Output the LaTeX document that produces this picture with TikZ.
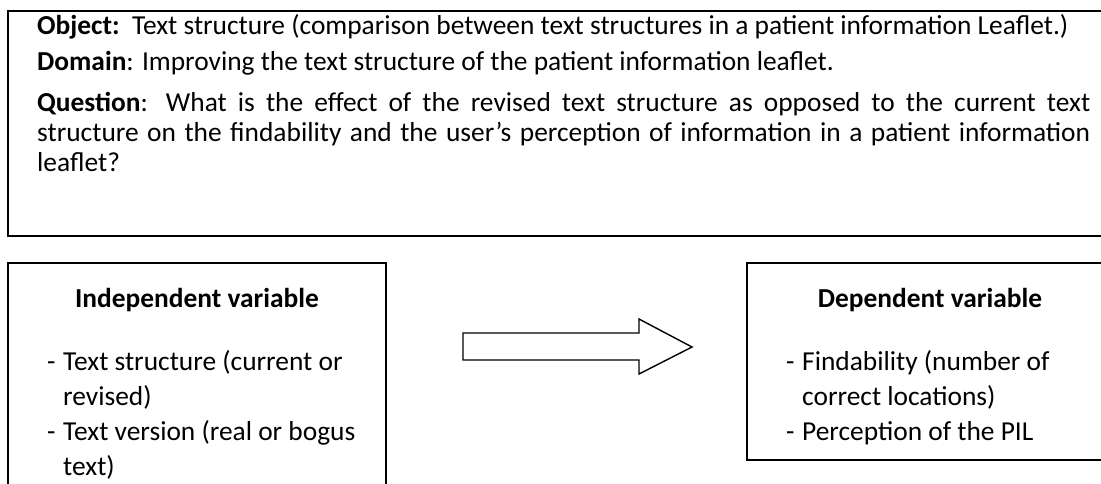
\documentclass[tikz,border=0pt]{standalone}
\usepackage{fontspec}
\setmainfont{Carlito}
\newcommand{\fs}{\fontsize{27.4pt}{33pt}\selectfont}
\begin{document}
\begin{tikzpicture}[x=1pt,y=-1pt,
  box/.style={draw=black,line width=1.7pt},
  txt/.style={anchor=base west,inner sep=0pt,font=\fs},
  hdr/.style={anchor=base,inner sep=0pt,font=\fs\bfseries}]
\useasboundingbox (0,0) rectangle (1101,483);
\clip (0,0) rectangle (1101,483);
% top box
\draw[box] (8,11) rectangle (1120,236);
\node[txt] (obj) at (37,34) {\textbf{Object:}\ \ Text structure (comparison between text structures in a patient information Leaflet.)};
\node[txt] (dom) at (37,70) {\textbf{Domain}: Improving the text structure of the patient information leaflet.};
\node[txt] (q1) at (37,111) {\makebox[1053pt][s]{\textbf{Question}: What is the effect of the revised text structure as opposed to the current text}};
\node[txt] (q2) at (37,141) {\makebox[1053pt][s]{structure on the findability and the user’s perception of information in a patient information}};
\node[txt] (q3) at (37,171) {leaflet?};
% independent box
\draw[box] (8,263) rectangle (386,500);
\node[hdr] (ih) at (197,307) {Independent variable};
\node[txt] (i1) at (47,370) {-};
\node[txt] (i1t) at (63,370) {Text structure (current or};
\node[txt] (i2t) at (63,405) {revised)};
\node[txt] (i3) at (47,440) {-};
\node[txt] (i3t) at (63,440) {Text version (real or bogus};
\node[txt] (i4t) at (63,475) {text)};
% dependent box
\draw[box] (747,263) rectangle (1126,460);
\node[hdr] (dh) at (930,307) {Dependent variable};
\node[txt] (d1) at (786,370) {-};
\node[txt] (d1t) at (802,370) {Findability (number of};
\node[txt] (d2t) at (802,405) {correct locations)};
\node[txt] (d3) at (786,440) {-};
\node[txt] (d3t) at (802,440) {Perception of the PIL};
% block arrow
\draw[line width=1.4pt,line join=miter] (463,333) -- (639,333) -- (639,319) -- (692,347) -- (639,374) -- (639,360) -- (463,360) -- cycle;
\end{tikzpicture}
\end{document}
